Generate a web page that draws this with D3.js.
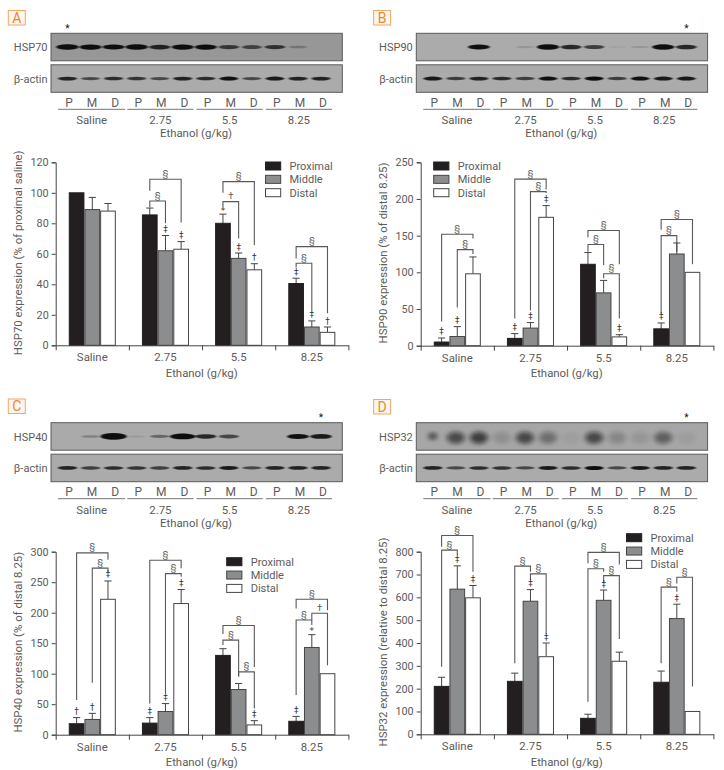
<!DOCTYPE html>
<html><head><meta charset="utf-8">
<script src="https://cdn.jsdelivr.net/npm/d3@7/dist/d3.min.js"></script>
<style>
html,body{margin:0;padding:0;background:#fff}
svg{display:block}
text{font-family:Roboto,"Noto Sans",sans-serif;fill:#5c5c5c}
</style></head><body>
<script>
// ---------- shared categories ----------
const doses = ["Saline","2.75","5.5","8.25"];
const regions = ["Proximal","Middle","Distal"];
const laneLabels = ["P","M","D"];
const xTitle = "Ethanol (g/kg)";

// ---------- HSP70 (A) ----------
const a_prox = [100,85.5,80,40.5], a_mid = [89,62,57,12], a_dist = [88,63,49.5,8.5];
const a_proxTop = [null,90,86,44], a_midTop = [97,72,60.5,16], a_distTop = [93,68,53.5,12];
const a_proxSym = ["","","*","‡"], a_midSym = ["","‡","‡","‡"], a_distSym = ["","‡","†","†"];
// [dose, from region, to region, top, from-leg end, to-leg end, mark]
const a_brackets = [[1,0,2,108.9,101.4,80.6,"§"],[1,0,1,94.6,90.5,80,"§"],
  [2,0,2,107.3,100,65.8,"§"],[2,0,1,94.2,90.3,70,"†"],
  [3,0,2,64.7,57,21,"§"],[3,0,1,53.8,51,23,"§"]];
const a_ticks = [0,20,40,60,80,100,120];
const a_gel = [1,.92,.88,1,.75,.92,.9,.62,.55,.65,.22,0];
const a_actin = [.75,.55,.7,.65,.55,.75,.7,.85,.55,.8,.75,.75];

// ---------- HSP90 (B) ----------
const b_prox = [5,10,111,23], b_mid = [12.5,24,72,125], b_dist = [98,175,12,100];
const b_proxTop = [10.5,16.5,127,31], b_midTop = [26,31.5,89,140], b_distTop = [121,191,15,null];
const b_proxSym = ["‡","‡","","‡"], b_midSym = ["‡","‡","",""], b_distSym = ["","‡","‡",""];
const b_brackets = [[0,0,2,152,33,146,"§"],[0,1,2,131,52,125,"§"],
  [1,0,2,227,37,213,"§"],[1,1,2,210,48,208,"§"],
  [2,0,2,157,148,111,"§"],[2,0,1,138,128,110,"§"],[2,1,2,98,92,37,"§"],
  [3,0,2,172,158,111,"§"],[3,0,1,150,44,128,"§"]];
const b_ticks = [0,50,100,150,200,250];
const b_gel = [0,0,.85,0,.12,1,.72,.6,.04,.12,.95,.72];
const b_actin = [.8,.6,.75,.7,.6,.85,.7,.95,.6,.85,.8,.8];

// ---------- HSP40 (C) ----------
const c_prox = [18,19,130,22], c_mid = [25,38,74,143], c_dist = [222,215,16,100];
const c_proxTop = [28,28,141,30], c_midTop = [35,51,84,164], c_distTop = [252,238,23,null];
const c_proxSym = ["†","‡","","‡"], c_midSym = ["†","‡","","*"], c_distSym = ["‡","‡","‡",""];
const c_brackets = [[0,0,2,298,57,287,"§"],[0,1,2,273,85,267,"§"],
  [1,0,2,286,51,273,"§"],[1,1,2,264,68,259,"§"],
  [2,0,2,179,165,111,"§"],[2,0,1,155,147,95,"§"],[2,1,2,103,96,43,"§"],
  [3,0,2,222,207,204,"§"],[3,0,1,188,65,180,"§"],[3,1,2,199,188,114,"†"]];
const c_ticks = [0,50,100,150,200,250,300];
const c_gel = [0,.22,1.3,.08,.38,1.05,.72,.55,0,0,.85,.8];
const c_actin = [.75,.6,.7,.65,.6,.75,.7,.8,.55,.75,.75,.75];

// ---------- HSP32 (D) ----------
const d_prox = [210,232,70,228], d_mid = [636,583,587,507], d_dist = [598,340,320,100];
const d_proxTop = [250,268,88,277], d_midTop = [738,634,632,570], d_distTop = [652,400,360,null];
const d_proxSym = ["","","",""], d_midSym = ["‡","‡","‡","‡"], d_distSym = ["‡","‡","",""];
const d_brackets = [[0,0,2,871,822,712,"§"],[0,0,1,807,296,785,"§"],
  [1,0,1,737,311,712,"§"],[1,1,2,703,676,439,"§"],
  [2,0,2,797,749,744,"§"],[2,0,1,725,143,712,"§"],[2,1,2,695,668,417,"§"],
  [3,0,1,645,311,625,"§"],[3,1,2,688,661,209,"§"]];
const d_ticks = [0,100,200,300,400,500,600,700,800];
const d_gel = [.75,.6,.68,.14,.62,.36,.05,.62,.2,.1,.46,.06];
const d_actin = [.75,.55,.7,.65,.55,.8,.7,.9,.55,.8,.75,.75];

const svg = d3.select("body").append("svg").attr("width",724).attr("height",770);
const defs = svg.append("defs");
defs.append("filter").attr("id","b1").attr("x","-40%").attr("y","-150%").attr("width","180%").attr("height","400%")
  .append("feGaussianBlur").attr("stdDeviation","0.9 0.6");
defs.append("filter").attr("id","b3").attr("x","-60%").attr("y","-100%").attr("width","220%").attr("height","300%")
  .append("feGaussianBlur").attr("stdDeviation","2.6 2");

const fills = ["#231f20","#8b8d8f","#ffffff"];
const AX = "#444";
const FS = "11.4px";

function western(o){
  const g = svg.append("g");
  g.append("rect").attr("x",o.gx-42.7).attr("y",o.tagY).attr("width",17).attr("height",14.5)
    .attr("fill","#fdf6ec").attr("stroke","#f0a868").attr("stroke-width",1);
  g.append("text").attr("x",o.gx-34.2).attr("y",o.tagY+12).attr("text-anchor","middle")
    .style("fill","#e8873a").style("font-size","14px").text(o.letter);
  const lane = d3.scalePoint().domain(d3.range(12)).range([o.gx+18,o.gx+272]);
  const bandX = d3.scalePoint().domain(d3.range(12)).range([o.gx+16.5,o.gx+270]);
  const rows = [[o.name,o.gel,o.gy,o.gelBg,o.smear],["β-actin",o.actin,o.gy+31.5,"#ababab",false]];
  rows.forEach(([label,vals,y,bg,smear],ri)=>{
    g.append("rect").attr("x",o.gx).attr("y",y).attr("width",291.3).attr("height",27.5)
      .attr("fill",bg).attr("stroke","#5a5a5a").attr("stroke-width",1);
    const hw = d=>d>1?13:(ri?9.5:8.5+2.8*d);
    const hh = d=>ri?(0.9+1.3*d):(0.9+1.9*d);
    g.selectAll(null).data(vals).join("ellipse")
      .attr("cx",(d,i)=>bandX(i))
      .attr("rx",(d,i)=>smear?(i===0?4:9):hw(d))
      .attr("cy",(d,i)=>y+(smear?(i===0?13.5:15):13.75))
      .attr("ry",(d,i)=>smear?(i===0?3:6):hh(d))
      .attr("fill","#0a0a0a")
      .attr("opacity",d=>Math.min(1,smear?d:d*1.15))
      .attr("filter",smear?"url(#b3)":"url(#b1)");
    g.append("text").attr("x",o.gx-3.5).attr("y",y+18).attr("text-anchor","end")
      .style("font-size","11px").text(label);
  });
  g.append("text").attr("x",bandX(o.star)).attr("y",o.gy-1.5).attr("text-anchor","middle")
    .style("fill","#111").style("font-size","10px").text("*");
  g.selectAll(null).data(d3.range(12)).join("text")
    .attr("x",i=>lane(i)).attr("y",o.gy+73.5).attr("text-anchor","middle")
    .style("font-size","12px").text(i=>laneLabels[i%3]);
  doses.forEach((dose,k)=>{
    const x1 = lane(k*3)-11, x2 = lane(k*3+2)+ (k?9:10);
    g.append("line").attr("x1",x1).attr("x2",x2).attr("y1",o.gy+76).attr("y2",o.gy+76)
      .attr("stroke","#777").attr("stroke-width",1);
    g.append("text").attr("x",(x1+x2)/2).attr("y",o.gy+91).attr("text-anchor","middle")
      .style("font-size",FS).text(dose);
  });
  g.append("text").attr("x",(lane(0)+lane(11))/2).attr("y",o.gy+104).attr("text-anchor","middle")
    .style("font-size",FS).text(xTitle);
}

function bars(o){
  const g = svg.append("g");
  const x0 = d3.scaleBand().domain(doses).range([o.x0,o.x0+292.7]).paddingInner(0.357).paddingOuter(0.1785);
  const x1 = d3.scaleBand().domain(regions).range([0,x0.bandwidth()]);
  const y = d3.scaleLinear().domain(o.yDomain).range([o.y0,o.y1]);
  const cx = (di,ri)=>x0(doses[di])+x1(regions[ri])+x1.bandwidth()/2;

  const series = regions.map((r,ri)=>doses.map((d,di)=>({di,ri,v:o.vals[ri][di],top:o.tops[ri][di],sym:o.syms[ri][di]})));
  const bg = g.append("g").attr("fill","none").attr("stroke","#595959").attr("stroke-width",1.1);
  bg.selectAll("path").data(o.brackets).join("path")
    .attr("d",b=>`M${cx(b[0],b[1])},${y(b[4])}V${y(b[3])}H${cx(b[0],b[2])}V${y(b[5])}`);
  g.selectAll(null).data(o.brackets).join("text")
    .attr("x",b=>(cx(b[0],b[1])+cx(b[0],b[2]))/2).attr("y",b=>y(b[3])-2.5)
    .attr("text-anchor","middle").style("font-size","9.5px").text(b=>b[6]);

  series.forEach((s,ri)=>{
    const ser = g.append("g");
    ser.selectAll("line.stem").data(s.filter(d=>d.top!=null)).join("line").attr("class","stem")
      .attr("x1",d=>cx(d.di,d.ri)).attr("x2",d=>cx(d.di,d.ri))
      .attr("y1",d=>y(d.v)).attr("y2",d=>y(d.top)).attr("stroke",AX);
    ser.selectAll("line.cap").data(s.filter(d=>d.top!=null)).join("line").attr("class","cap")
      .attr("x1",d=>cx(d.di,d.ri)-3.6).attr("x2",d=>cx(d.di,d.ri)+3.6)
      .attr("y1",d=>y(d.top)).attr("y2",d=>y(d.top)).attr("stroke",AX);
    ser.selectAll("rect").data(s).join("rect")
      .attr("x",d=>x0(doses[d.di])+x1(regions[d.ri])+.5)
      .attr("width",x1.bandwidth()-1)
      .attr("y",d=>y(d.v)).attr("height",d=>y(0)-y(d.v))
      .attr("fill",fills[ri]).attr("stroke",ri===0?"#231f20":"#454545").attr("stroke-width",1);
    ser.selectAll("text").data(s.filter(d=>d.sym)).join("text")
      .attr("x",d=>cx(d.di,d.ri))
      .attr("y",d=>y(d.top==null?d.v:d.top)-(d.sym==="*"?0.5:3.5))
      .attr("text-anchor","middle").style("fill","#333").style("font-size","9px")
      .style("font-family","'DejaVu Sans',sans-serif").text(d=>d.sym);
  });

  const ya = g.append("g").attr("transform",`translate(${o.x0},0)`)
    .call(d3.axisLeft(y).tickValues(o.ticks).tickSize(4).tickPadding(3).tickFormat(d3.format("d")));
  const edge = d3.scaleLinear().domain([0,doses.length]).range([o.x0,o.x0+292.7]);
  const xa = g.append("g").attr("transform",`translate(0,${o.y0})`)
    .call(d3.axisBottom(edge).ticks(4).tickSize(5).tickSizeOuter(0).tickFormat(""));
  const xl = g.append("g").attr("transform",`translate(0,${o.y0})`)
    .call(d3.axisBottom(x0).tickSize(0).tickPadding(8));
  xl.select(".domain").remove();
  [ya,xa].forEach(a=>{a.selectAll("path,line").attr("stroke",AX);});
  ya.selectAll("text").style("font-size","10.8px").attr("fill",null);
  xl.selectAll("text").style("font-size",FS).attr("fill",null);
  ya.attr("font-family",null); xl.attr("font-family",null);

  g.append("text").attr("x",o.x0+146).attr("y",o.y0+31.5).attr("text-anchor","middle")
    .style("font-size",FS).text(xTitle);
  g.append("text").attr("transform",`translate(${o.x0-33.5},${(o.y0+o.y1)/2-1}) rotate(-90)`)
    .attr("text-anchor","middle").style("font-size",FS).text(o.yTitle);

  const lg = g.append("g").selectAll("g").data(regions).join("g")
    .attr("transform",(d,i)=>`translate(${o.lx},${o.ly+i*13.35})`);
  lg.append("rect").attr("x",0).attr("y",-4).attr("width",15.2).attr("height",8)
    .attr("fill",(d,i)=>fills[i]).attr("stroke",(d,i)=>i===0?"#231f20":"#454545");
  lg.append("text").attr("x",24).attr("y",4).style("font-size","11px").text(d=>d);
}

western({letter:"A",name:"HSP70",gx:51,gy:33.3,tagY:10.5,gel:a_gel,actin:a_actin,gelBg:"#979797",star:0});
western({letter:"B",name:"HSP90",gx:416.3,gy:33.3,tagY:10.5,gel:b_gel,actin:b_actin,gelBg:"#ababab",star:11});
western({letter:"C",name:"HSP40",gx:51,gy:422.7,tagY:399,gel:c_gel,actin:c_actin,gelBg:"#aaaaaa",star:11});
western({letter:"D",name:"HSP32",gx:416.3,gy:422.7,tagY:399.5,gel:d_gel,actin:d_actin,gelBg:"#a6a6a6",star:11,smear:true});

bars({x0:55.7,y0:345.3,y1:162.3,yDomain:[0,120],ticks:a_ticks,vals:[a_prox,a_mid,a_dist],tops:[a_proxTop,a_midTop,a_distTop],syms:[a_proxSym,a_midSym,a_distSym],brackets:a_brackets,yTitle:"HSP70 expression (% of proximal saline)",lx:265.5,ly:166});
bars({x0:420.7,y0:345.7,y1:162.3,yDomain:[0,250],ticks:b_ticks,vals:[b_prox,b_mid,b_dist],tops:[b_proxTop,b_midTop,b_distTop],syms:[b_proxSym,b_midSym,b_distSym],brackets:b_brackets,yTitle:"HSP90 expression (% of distal 8.25)",lx:433.7,ly:166});
bars({x0:55.7,y0:734.7,y1:551.7,yDomain:[0,300],ticks:c_ticks,vals:[c_prox,c_mid,c_dist],tops:[c_proxTop,c_midTop,c_distTop],syms:[c_proxSym,c_midSym,c_distSym],brackets:c_brackets,yTitle:"HSP40 expression (% of distal 8.25)",lx:226.7,ly:561.7});
bars({x0:420.7,y0:734.3,y1:551.7,yDomain:[0,800],ticks:d_ticks,vals:[d_prox,d_mid,d_dist],tops:[d_proxTop,d_midTop,d_distTop],syms:[d_proxSym,d_midSym,d_distSym],brackets:d_brackets,yTitle:"HSP32 expression (relative to distal 8.25)",lx:626.5,ly:537.7});
</script>
</body></html>
